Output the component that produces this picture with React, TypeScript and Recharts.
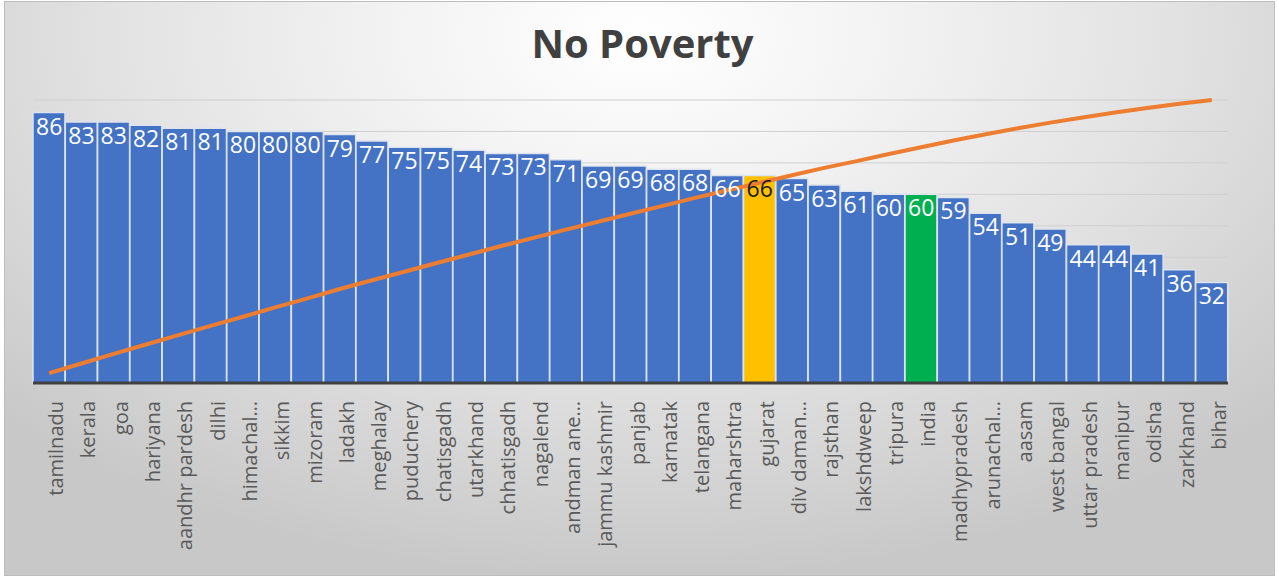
import React from 'react';
import { ComposedChart, Bar, Line, XAxis, YAxis, CartesianGrid, Cell, LabelList } from 'recharts';

const states = [
  'tamilnadu', 'kerala', 'goa', 'hariyana', 'aandhr pardesh', 'dilhi', 'himachal…', 'sikkim',
  'mizoram', 'ladakh', 'meghalay', 'puduchery', 'chatisgadh', 'utarkhand', 'chhatisgadh', 'nagalend',
  'andman ane…', 'jammu kashmir', 'panjab', 'karnatak', 'telangana', 'maharshtra', 'gujarat',
  'div daman…', 'rajsthan', 'lakshdweep', 'tripura', 'india', 'madhypradesh', 'arunachal…', 'aasam',
  'west bangal', 'uttar pradesh', 'manipur', 'odisha', 'zarkhand', 'bihar',
];

const scores = [
  86, 83, 83, 82, 81, 81, 80, 80, 80, 79, 77, 75, 75, 74, 73, 73, 71, 69, 69, 68, 68, 66, 66,
  65, 63, 61, 60, 60, 59, 54, 51, 49, 44, 44, 41, 36, 32,
];

// cumulative share (%) shown by the orange pareto line
const cumulative = [
  3.5, 6.9, 10.3, 13.6, 16.9, 20.2, 23.4, 26.7, 29.9, 33.2, 36.3, 39.3, 42.4, 45.4, 48.4, 51.3,
  54.2, 57.0, 59.8, 62.6, 65.4, 68.1, 70.7, 73.4, 76.0, 78.4, 80.9, 83.3, 85.7, 87.9, 90.0, 92.0,
  93.8, 95.6, 97.2, 98.7, 100,
];

const yTicks = [0, 10, 20, 30, 40, 50, 60, 70, 80, 90];
const yMax = 90;

const highlight: Record<string, string> = { gujarat: '#FFC000', india: '#00B050' };

const data = states.map((name, i) => ({ name, value: scores[i], cum: cumulative[i] }));

const StateTick = (props: any) => {
  const { x, y, payload } = props;
  const bx = x + 14;
  const by = y + 18;
  return (
    <text
      x={bx}
      y={by}
      transform={`rotate(-90, ${bx}, ${by})`}
      textAnchor="end"
      fill="#595959"
      fontSize={20}
      fontFamily="'Open Sans', sans-serif"
    >
      {payload.value}
    </text>
  );
};

const ValueLabel = (props: any) => {
  const { x, y, value, index } = props;
  const dark = data[index] && data[index].name === 'gujarat';
  return (
    <text
      x={x}
      y={y + 22}
      textAnchor="middle"
      fill={dark ? '#1a1a1a' : '#ffffff'}
      fontSize={23}
      fontFamily="'Open Sans', sans-serif"
    >
      {value}
    </text>
  );
};

// grid rows at every y tick of the (label-less) left axis
const gridRows = ({ offset }: any) =>
  yTicks.map((t) => offset.top + offset.height * (1 - t / yMax));

export default function App() {
  return (
    <div style={{ position: 'fixed', left: 0, top: 0, width: 1278, height: 578, background: '#ffffff' }}>
      <div
        style={{
          position: 'absolute',
          left: 4,
          top: 1,
          width: 1271,
          height: 575,
          boxSizing: 'border-box',
          border: '1px solid #bdbdbd',
          background:
            'radial-gradient(ellipse 70% 95% at 50% 6%, #ffffff 0%, #f4f4f4 25%, #e2e2e2 60%, #c8c8c8 100%)',
        }}
      />
      <div
        style={{
          position: 'absolute',
          left: 0,
          top: 23,
          width: 1285,
          textAlign: 'center',
          fontFamily: "'Open Sans', sans-serif",
          fontWeight: 700,
          fontSize: 40,
          lineHeight: '40px',
          color: '#404040',
        }}
      >
        No Poverty
      </div>
      <div style={{ position: 'absolute', left: 0, top: 0 }}>
        <ComposedChart
          width={1278}
          height={578}
          data={data}
          margin={{ top: 100, right: 50, left: 33, bottom: 5 }}
          barCategoryGap={0}
        >
          <CartesianGrid
            vertical={false}
            horizontalCoordinatesGenerator={gridRows}
            stroke="#cfcfcf"
            strokeWidth={1}
          />
          <XAxis
            dataKey="name"
            interval={0}
            tickLine={false}
            tickSize={0}
            tickMargin={0}
            height={190}
            axisLine={{ stroke: '#404040', strokeWidth: 3 }}
            tick={<StateTick />}
          />
          <YAxis
            yAxisId="left"
            domain={[0, yMax]}
            ticks={yTicks}
            width={0}
            tick={false}
            tickLine={false}
            axisLine={false}
          />
          <YAxis
            yAxisId="right"
            orientation="right"
            domain={[0, 100]}
            width={0}
            tick={false}
            tickLine={false}
            axisLine={{ stroke: '#404040', strokeWidth: 3 }}
          />
          <Bar
            yAxisId="left"
            dataKey="value"
            isAnimationActive={false}
            stroke="#dde4ee"
            strokeWidth={1.5}
          >
            {data.map((d) => (
              <Cell key={d.name} fill={highlight[d.name] || '#4472C4'} />
            ))}
          </Bar>
          <Line
            yAxisId="right"
            dataKey="cum"
            type="linear"
            stroke="#ED7D31"
            strokeWidth={4}
            dot={false}
            activeDot={false}
            isAnimationActive={false}
          />
          <Line
            yAxisId="left"
            dataKey="value"
            stroke="none"
            dot={false}
            activeDot={false}
            legendType="none"
            isAnimationActive={false}
          >
            <LabelList dataKey="value" content={<ValueLabel />} />
          </Line>
        </ComposedChart>
      </div>
    </div>
  );
}
